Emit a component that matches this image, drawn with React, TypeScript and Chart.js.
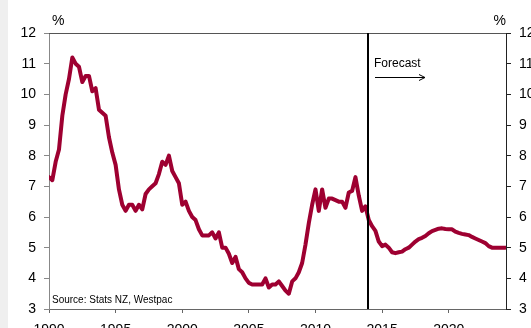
import React, { useEffect, useRef } from "react";
import { Chart, registerables } from "chart.js";

Chart.register(...registerables);

// NZ unemployment rate, quarterly, % (history + Westpac forecast)
const START_YEAR = 1990;
const UNEMPLOYMENT: number[] = [
  7.3, 7.2, 7.8, 8.2, // 1990
  9.3, 10.0, 10.5, 11.2, // 1991
  11.0, 10.9, 10.4, 10.6, // 1992
  10.6, 10.1, 10.2, 9.5, // 1993
  9.4, 9.3, 8.6, 8.1, // 1994
  7.7, 6.9, 6.4, 6.2, // 1995
  6.4, 6.4, 6.2, 6.4, // 1996
  6.25, 6.75, 6.9, 7.0, // 1997
  7.1, 7.4, 7.8, 7.7, // 1998
  8.0, 7.5, 7.3, 7.1, // 1999
  6.4, 6.5, 6.2, 6.0, // 2000
  5.9, 5.6, 5.4, 5.4, // 2001
  5.4, 5.5, 5.3, 5.5, // 2002
  5.0, 5.0, 4.8, 4.5, // 2003
  4.7, 4.3, 4.2, 4.0, // 2004
  3.85, 3.8, 3.8, 3.8, // 2005
  3.8, 4.0, 3.7, 3.8, // 2006
  3.8, 3.9, 3.75, 3.6, // 2007
  3.5, 3.9, 4.0, 4.2, // 2008
  4.5, 5.1, 5.8, 6.4, // 2009
  6.9, 6.2, 6.9, 6.3, // 2010
  6.6, 6.6, 6.55, 6.5, // 2011
  6.5, 6.3, 6.8, 6.85, // 2012
  7.3, 6.7, 6.2, 6.35, // 2013
  5.9, 5.7, 5.55, 5.2, // 2014
  5.05, 5.1, 5.0, 4.85, // 2015
  4.82, 4.85, 4.87, 4.95, // 2016
  5.0, 5.1, 5.2, 5.28, // 2017
  5.32, 5.38, 5.47, 5.54, // 2018
  5.58, 5.62, 5.63, 5.61, // 2019
  5.6, 5.6, 5.52, 5.48, // 2020
  5.45, 5.43, 5.41, 5.35, // 2021
  5.3, 5.25, 5.2, 5.15, // 2022
  5.05, 5.0, 5.0, 5.0, // 2023
  5.0, 5.0, // 2024
];
const QUARTERS: number[] = UNEMPLOYMENT.map((_, i) => START_YEAR + i * 0.25);

const X_MIN = 1990;
const X_MAX = 2024.3;
const X_TICKS = [1990, 1995, 2000, 2005, 2010, 2015, 2020];
const Y_MIN = 3;
const Y_MAX = 12;
const Y_TICKS = [3, 4, 5, 6, 7, 8, 9, 10, 11, 12];
const FORECAST_START = 2013.92;
const FORECAST_LABEL = "Forecast";
const SOURCE_LABEL = "Source: Stats NZ, Westpac";
const UNIT_LABEL = "%";

const FONT = "'Liberation Sans', Arial, sans-serif";
const LINE_COLOR = "#9e0031";

const CANVAS_W = 531;
const CANVAS_H = 345;

const annotationPlugin = {
  id: "nzAnnotations",
  afterDraw(chart: any) {
    const { ctx, chartArea, scales } = chart;
    const fx = Math.round(scales.x.getPixelForValue(FORECAST_START));
    ctx.save();
    // top frame line
    ctx.strokeStyle = "#555555";
    ctx.lineWidth = 1;
    ctx.beginPath();
    ctx.moveTo(chartArea.left, chartArea.top + 0.5);
    ctx.lineTo(chartArea.right, chartArea.top + 0.5);
    ctx.stroke();
    // forecast divider
    ctx.strokeStyle = "#000000";
    ctx.lineWidth = 2;
    ctx.beginPath();
    ctx.moveTo(fx, chartArea.top);
    ctx.lineTo(fx, chartArea.bottom);
    ctx.stroke();
    // forecast label
    ctx.fillStyle = "#000000";
    ctx.font = `12px ${FONT}`;
    ctx.textAlign = "left";
    ctx.textBaseline = "alphabetic";
    ctx.fillText(FORECAST_LABEL, fx + 6, chartArea.top + 34);
    // arrow
    const ay = chartArea.top + 44.5;
    const ax0 = fx + 7;
    const ax1 = fx + 57;
    ctx.lineWidth = 1;
    ctx.beginPath();
    ctx.moveTo(ax0, ay);
    ctx.lineTo(ax1, ay);
    ctx.moveTo(ax1 - 6, ay - 3);
    ctx.lineTo(ax1, ay);
    ctx.lineTo(ax1 - 6, ay + 3);
    ctx.stroke();
    // unit labels
    ctx.font = `14px ${FONT}`;
    ctx.textAlign = "left";
    ctx.fillText(UNIT_LABEL, chartArea.left + 3, chartArea.top - 8);
    ctx.textAlign = "right";
    ctx.fillText(UNIT_LABEL, chartArea.right, chartArea.top - 8);
    // source
    ctx.font = `10px ${FONT}`;
    ctx.textAlign = "left";
    ctx.fillText(SOURCE_LABEL, chartArea.left + 3, chartArea.bottom - 6);
    ctx.restore();
  },
};

export default function App() {
  const canvasRef = useRef<HTMLCanvasElement | null>(null);

  useEffect(() => {
    if (!canvasRef.current) return;
    const data = QUARTERS.map((x, i) => ({ x, y: UNEMPLOYMENT[i] }));
    const tickFont = { family: FONT, size: 14 };
    const chart = new Chart(canvasRef.current, {
      type: "line",
      data: {
        datasets: [
          {
            data,
            borderColor: LINE_COLOR,
            borderWidth: 4,
            pointRadius: 0,
            tension: 0,
            fill: false,
            borderJoinStyle: "round",
            borderCapStyle: "round",
          },
        ],
      },
      options: {
        animation: false,
        responsive: false,
        devicePixelRatio: 1,
        layout: { padding: { top: 33, left: 0, right: 0, bottom: 0 } },
        plugins: {
          legend: { display: false },
          tooltip: { enabled: false },
        },
        scales: {
          x: {
            type: "linear",
            min: X_MIN,
            max: X_MAX,
            afterBuildTicks: (s: any) => {
              s.ticks = X_TICKS.map((v) => ({ value: v }));
            },
            afterFit: (s: any) => {
              s.height = 36;
            },
            ticks: {
              color: "#000000",
              font: tickFont,
              padding: 9,
              maxRotation: 0,
              autoSkip: false,
              callback: (v: any) => String(v),
            },
            grid: {
              drawOnChartArea: false,
              drawTicks: true,
              tickLength: 4,
              color: "#666666",
            },
            border: { display: true, color: "#666666", width: 1 },
          },
          y: {
            type: "linear",
            position: "left",
            min: Y_MIN,
            max: Y_MAX,
            afterBuildTicks: (s: any) => {
              s.ticks = Y_TICKS.map((v) => ({ value: v }));
            },
            afterFit: (s: any) => {
              s.width = 49;
            },
            ticks: { color: "#000000", font: tickFont, padding: 8 },
            grid: {
              drawOnChartArea: false,
              drawTicks: true,
              tickLength: 5,
              color: "#888888",
            },
            border: { display: true, color: "#888888", width: 1 },
          },
          y2: {
            type: "linear",
            position: "right",
            min: Y_MIN,
            max: Y_MAX,
            afterBuildTicks: (s: any) => {
              s.ticks = Y_TICKS.map((v) => ({ value: v }));
            },
            afterFit: (s: any) => {
              s.width = 25;
            },
            ticks: { color: "#000000", font: tickFont, padding: 8 },
            grid: {
              drawOnChartArea: false,
              drawTicks: true,
              tickLength: 5,
              color: "#222222",
            },
            border: { display: true, color: "#222222", width: 1 },
          },
        },
      } as any,
      plugins: [annotationPlugin],
    });
    return () => chart.destroy();
  }, []);

  return (
    <div
      style={{
        position: "fixed",
        left: 0,
        top: 0,
        width: CANVAS_W,
        height: 328,
        overflow: "hidden",
        background: "#ffffff",
      }}
    >
      <div
        style={{
          position: "absolute",
          left: 0,
          top: 0,
          width: 8,
          height: 328,
          background: "#efefef",
        }}
      />
      <canvas
        ref={canvasRef}
        width={CANVAS_W}
        height={CANVAS_H}
        style={{ position: "absolute", left: 0, top: 0, width: CANVAS_W, height: CANVAS_H }}
      />
    </div>
  );
}
